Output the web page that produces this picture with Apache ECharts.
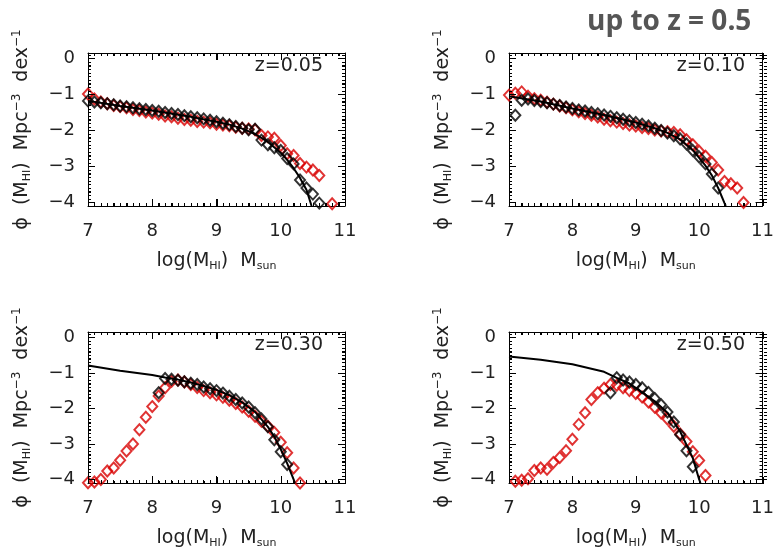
<!DOCTYPE html>
<html>
<head>
<meta charset="utf-8">
<script src="https://cdn.jsdelivr.net/npm/echarts@6/dist/echarts.min.js"></script>
<style>
html,body{margin:0;padding:0;background:#fff;}
#chart{width:777px;height:550px;}
</style>
</head>
<body>
<div id="chart"></div>
<script>
// ---------------- DATA ----------------
const panelLabels = ['z=0.05', 'z=0.10', 'z=0.30', 'z=0.50'];
const xTicks = [7, 8, 9, 10, 11];
const yTicks = [-4, -3, -2, -1, 0];

// z = 0.05
const mass05Black = [7.0,7.1,7.2,7.3,7.4,7.5,7.6,7.7,7.8,7.9,8.0,8.1,8.2,8.3,8.4,8.5,8.6,8.7,8.8,8.9,9.0,9.1,9.2,9.3,9.4,9.5,9.6,9.7,9.8,9.9,10.0,10.1,10.2,10.3,10.4,10.5,10.6];
const phi05Black = [-1.18,-1.21,-1.23,-1.26,-1.29,-1.32,-1.34,-1.37,-1.40,-1.42,-1.45,-1.47,-1.50,-1.53,-1.56,-1.59,-1.62,-1.65,-1.68,-1.72,-1.76,-1.80,-1.84,-1.89,-1.94,-1.98,-1.97,-2.27,-2.40,-2.48,-2.56,-2.78,-2.93,-3.38,-3.60,-3.77,-4.02];
const mass05Red = [7.0,7.1,7.2,7.3,7.4,7.5,7.6,7.7,7.8,7.9,8.0,8.1,8.2,8.3,8.4,8.5,8.6,8.7,8.8,8.9,9.0,9.1,9.2,9.3,9.4,9.5,9.6,9.7,9.8,9.9,10.0,10.1,10.2,10.3,10.4,10.5,10.6,10.8];
const phi05Red = [-0.99,-1.13,-1.21,-1.26,-1.31,-1.34,-1.37,-1.42,-1.45,-1.49,-1.52,-1.55,-1.60,-1.62,-1.66,-1.70,-1.72,-1.75,-1.77,-1.79,-1.83,-1.85,-1.87,-1.91,-1.94,-1.96,-1.98,-2.14,-2.18,-2.22,-2.42,-2.65,-2.70,-2.92,-3.02,-3.10,-3.25,-4.04];
const mass05Fit = [7.0,7.5,8.0,8.5,9.0,9.2,9.4,9.6,9.8,10.0,10.1,10.2,10.3,10.4,10.48];
const phi05Fit = [-1.18,-1.32,-1.45,-1.59,-1.76,-1.84,-1.95,-2.10,-2.32,-2.62,-2.82,-3.05,-3.32,-3.65,-4.10];

// z = 0.10
const mass10Black = [7.1,7.2,7.3,7.4,7.5,7.6,7.7,7.8,7.9,8.0,8.1,8.2,8.3,8.4,8.5,8.6,8.7,8.8,8.9,9.0,9.1,9.2,9.3,9.4,9.5,9.6,9.7,9.8,9.9,10.0,10.1,10.2,10.3];
const phi10Black = [-1.58,-1.16,-1.13,-1.17,-1.20,-1.23,-1.27,-1.31,-1.35,-1.39,-1.43,-1.46,-1.50,-1.54,-1.57,-1.61,-1.65,-1.69,-1.73,-1.78,-1.83,-1.88,-1.94,-2.00,-2.07,-2.15,-2.24,-2.38,-2.56,-2.74,-2.93,-3.21,-3.60];
const mass10Red = [7.0,7.1,7.2,7.3,7.4,7.5,7.6,7.7,7.8,7.9,8.0,8.1,8.2,8.3,8.4,8.5,8.6,8.7,8.8,8.9,9.0,9.1,9.2,9.3,9.4,9.5,9.6,9.7,9.8,9.9,10.0,10.1,10.2,10.3,10.4,10.5,10.6,10.7];
const phi10Red = [-1.02,-0.97,-0.93,-1.05,-1.12,-1.16,-1.22,-1.27,-1.32,-1.37,-1.43,-1.48,-1.53,-1.58,-1.63,-1.69,-1.73,-1.77,-1.81,-1.85,-1.88,-1.92,-1.95,-1.99,-2.02,-2.04,-2.06,-2.12,-2.26,-2.40,-2.58,-2.72,-2.89,-3.10,-3.42,-3.48,-3.60,-4.00];
const mass10Fit = [7.0,7.5,8.0,8.5,9.0,9.3,9.5,9.7,9.9,10.1,10.2,10.3,10.4,10.42];
const phi10Fit = [-1.05,-1.20,-1.39,-1.57,-1.78,-1.94,-2.07,-2.25,-2.55,-2.98,-3.25,-3.60,-4.02,-4.10];

// z = 0.30
const mass30Black = [8.1,8.2,8.3,8.4,8.5,8.6,8.7,8.8,8.9,9.0,9.1,9.2,9.3,9.4,9.5,9.6,9.7,9.8,9.9,10.0,10.1];
const phi30Black = [-1.56,-1.16,-1.18,-1.21,-1.25,-1.29,-1.33,-1.40,-1.45,-1.50,-1.57,-1.66,-1.75,-1.85,-1.96,-2.12,-2.30,-2.52,-2.88,-3.22,-3.58];
const mass30Red = [7.0,7.1,7.2,7.3,7.4,7.5,7.6,7.7,7.8,7.9,8.0,8.1,8.2,8.3,8.4,8.5,8.6,8.7,8.8,8.9,9.0,9.1,9.2,9.3,9.4,9.5,9.6,9.7,9.8,9.9,10.0,10.1,10.2,10.3];
const phi30Red = [-4.09,-4.07,-4.00,-3.76,-3.68,-3.46,-3.20,-3.00,-2.60,-2.25,-1.95,-1.65,-1.42,-1.24,-1.20,-1.26,-1.33,-1.41,-1.50,-1.56,-1.62,-1.69,-1.77,-1.86,-1.96,-2.08,-2.22,-2.36,-2.50,-2.68,-2.95,-3.25,-3.68,-4.10];
const mass30Fit = [7.0,7.5,8.0,8.2,8.4,8.6,8.8,9.0,9.2,9.4,9.6,9.8,9.9,10.0,10.1,10.2,10.22];
const phi30Fit = [-0.79,-0.94,-1.06,-1.13,-1.19,-1.27,-1.37,-1.48,-1.63,-1.83,-2.10,-2.52,-2.80,-3.15,-3.55,-4.00,-4.10];

// z = 0.50
const mass50Black = [8.6,8.7,8.8,8.9,9.0,9.1,9.2,9.3,9.4,9.5,9.6,9.7,9.8,9.9];
const phi50Black = [-1.56,-1.14,-1.20,-1.26,-1.33,-1.42,-1.55,-1.72,-1.90,-2.10,-2.38,-2.74,-3.19,-3.64];
const mass50Red = [7.0,7.1,7.2,7.3,7.4,7.5,7.6,7.7,7.8,7.9,8.0,8.1,8.2,8.3,8.4,8.5,8.6,8.7,8.8,8.9,9.0,9.1,9.2,9.3,9.4,9.5,9.6,9.7,9.8,9.9,10.0,10.1];
const phi50Red = [-4.12,-4.05,-4.02,-3.98,-3.75,-3.68,-3.71,-3.52,-3.38,-3.19,-2.87,-2.45,-2.12,-1.75,-1.56,-1.43,-1.33,-1.35,-1.42,-1.50,-1.58,-1.68,-1.82,-1.97,-2.13,-2.30,-2.50,-2.72,-2.93,-3.22,-3.47,-3.89];
const mass50Fit = [7.0,7.5,8.0,8.5,8.7,8.9,9.1,9.3,9.5,9.7,9.9,10.0,10.02];
const phi50Fit = [-0.54,-0.63,-0.76,-0.97,-1.14,-1.30,-1.55,-1.80,-2.12,-2.65,-3.40,-4.00,-4.10];

// ---------------- BUILD ----------------
function zip(xs, ys) { return xs.map((x, i) => [x, ys[i]]); }

const X_MIN = 7, X_MAX = 11, Y_MIN = -4.1, Y_MAX = 0.15;

const panels = [
  {label: panelLabels[0], black: zip(mass05Black, phi05Black), red: zip(mass05Red, phi05Red), fit: zip(mass05Fit, phi05Fit)},
  {label: panelLabels[1], black: zip(mass10Black, phi10Black), red: zip(mass10Red, phi10Red), fit: zip(mass10Fit, phi10Fit)},
  {label: panelLabels[2], black: zip(mass30Black, phi30Black), red: zip(mass30Red, phi30Red), fit: zip(mass30Fit, phi30Fit)},
  {label: panelLabels[3], black: zip(mass50Black, phi50Black), red: zip(mass50Red, phi50Red), fit: zip(mass50Fit, phi50Fit)}
];

const grids = [
  {left: 88, top: 53, width: 257, height: 153},
  {left: 509, top: 53, width: 258, height: 153},
  {left: 88, top: 332, width: 257, height: 152},
  {left: 509, top: 332, width: 258, height: 152}
];

const FONT = 'DejaVu Sans';
const TXT = '#222';

const nameRich = {
  n: {fontSize: 19, color: TXT, fontFamily: FONT},
  s: {fontSize: 11, color: TXT, fontFamily: FONT, padding: [10, 0, 0, 0]},
  p: {fontSize: 12, color: TXT, fontFamily: FONT, padding: [0, 0, 11, 0]}
};

function axisCommon() {
  return {
    axisLine: {show: true, onZero: false, lineStyle: {color: '#000', width: 1}},
    axisTick: {show: true, inside: true, length: 7, lineStyle: {color: '#000', width: 1}},
    minorTick: {show: true, splitNumber: 10, length: 3, lineStyle: {color: '#000', width: 1}},
    splitLine: {show: false},
    minorSplitLine: {show: false}
  };
}

const xAxes = [], yAxes = [], series = [], graphics = [];

grids.forEach((g, i) => {
  xAxes.push(Object.assign({
    gridIndex: i, type: 'value', min: X_MIN, max: X_MAX, interval: 1, position: 'bottom',
    axisLabel: {show: true, margin: 16, fontSize: 18, color: TXT, fontFamily: FONT,
      formatter: v => (xTicks.indexOf(Math.round(v)) >= 0 && Math.abs(v - Math.round(v)) < 1e-6) ? String(Math.round(v)) : ''},
    name: '{n|log(M}{s|HI}{n|)  M}{s|sun}',
    nameLocation: 'middle', nameGap: 45,
    nameTextStyle: {rich: nameRich}
  }, axisCommon()));
  xAxes.push(Object.assign({
    gridIndex: i, type: 'value', min: X_MIN, max: X_MAX, interval: 1, position: 'top',
    axisLabel: {show: false}
  }, axisCommon()));
  yAxes.push(Object.assign({
    gridIndex: i, type: 'value', min: Y_MIN, max: Y_MAX, splitNumber: 5, position: 'left',
    axisLabel: {show: true, margin: 13, fontSize: 18, color: TXT, fontFamily: FONT,
      formatter: v => {
        const r = Math.round(v);
        if (Math.abs(v - r) > 1e-6 || yTicks.indexOf(r) < 0) return '';
        return r === 0 ? '0' : '\u2212' + Math.abs(r);
      }},
    name: '{n|\u03D5  (M}{s|HI}{n|)  Mpc}{p|\u22123}{n|  dex}{p|\u22121}',
    nameLocation: 'middle', nameGap: 54,
    nameTextStyle: {rich: nameRich}
  }, axisCommon()));
  yAxes.push(Object.assign({
    gridIndex: i, type: 'value', min: Y_MIN, max: Y_MAX, splitNumber: 5, position: 'right',
    axisLabel: {show: false}
  }, axisCommon()));

  const p = panels[i];
  const symStyle = (c) => ({color: 'rgba(0,0,0,0)', borderColor: c, borderWidth: 2});
  series.push({
    type: 'scatter', xAxisIndex: 2 * i, yAxisIndex: 2 * i, data: p.red,
    symbol: 'diamond', symbolSize: [10, 11], itemStyle: symStyle('#d80000'), z: 2, silent: true
  });
  series.push({
    type: 'scatter', xAxisIndex: 2 * i, yAxisIndex: 2 * i, data: p.black,
    symbol: 'diamond', symbolSize: [10, 11], itemStyle: symStyle('#000'), z: 3, silent: true
  });
  series.push({
    type: 'line', xAxisIndex: 2 * i, yAxisIndex: 2 * i, data: p.fit,
    showSymbol: false, symbol: 'none', lineStyle: {color: '#000', width: 2}, z: 4, clip: true, silent: true
  });

  graphics.push({
    type: 'text', right: 777 - (g.left + g.width) + 22, top: g.top + 4,
    style: {text: p.label, font: '19px "DejaVu Sans"', fill: TXT}
  });
});

graphics.push({
  type: 'text', left: 587, top: 8,
  style: {text: 'up to z = 0.5', font: 'bold 28px "Open Sans"', fill: '#555'}
});

const chart = echarts.init(document.getElementById('chart'), null, {renderer: 'canvas'});
chart.setOption({
  animation: false,
  backgroundColor: '#fff',
  grid: grids.map(g => Object.assign({containLabel: false}, g)),
  xAxis: xAxes,
  yAxis: yAxes,
  series: series,
  graphic: graphics
});

// box tick marks as thin filled rects, positioned through the axes' own scales
const tickRects = [];
const minorX = [], minorY = [];
for (let k = 71; k < 110; k++) { if (k % 10 !== 0) minorX.push(k / 10); }
for (let k = -40; k <= 1; k++) { if (k % 10 !== 0) minorY.push(k / 10); }
function toPx(i, x, y) {
  let pt = null;
  try { pt = chart.convertToPixel({gridIndex: i}, [x, y]); } catch (e) { pt = null; }
  if (!pt || !isFinite(pt[0]) || !isFinite(pt[1])) {
    const g = grids[i];
    pt = [g.left + (x - X_MIN) / (X_MAX - X_MIN) * g.width,
          g.top + (Y_MAX - y) / (Y_MAX - Y_MIN) * g.height];
  }
  return pt;
}
grids.forEach((g, i) => {
  const yb = g.top + g.height, yt = g.top, xl = g.left, xr = g.left + g.width;
  const addX = (v, len) => {
    const x = Math.round(toPx(i, v, Y_MIN)[0]);
    tickRects.push({type: 'rect', silent: true, z: 100, shape: {x: x, y: yb - len, width: 1, height: len}, style: {fill: '#000'}});
    tickRects.push({type: 'rect', silent: true, z: 100, shape: {x: x, y: yt, width: 1, height: len}, style: {fill: '#000'}});
  };
  const addY = (v, len) => {
    const y = Math.round(toPx(i, X_MIN, v)[1]);
    tickRects.push({type: 'rect', silent: true, z: 100, shape: {x: xl, y: y, width: len, height: 1}, style: {fill: '#000'}});
    tickRects.push({type: 'rect', silent: true, z: 100, shape: {x: xr - len, y: y, width: len, height: 1}, style: {fill: '#000'}});
  };
  xTicks.forEach(v => addX(v, 7));
  minorX.forEach(v => addX(v, 3));
  yTicks.forEach(v => addY(v, 7));
  minorY.forEach(v => addY(v, 3));
});
chart.setOption({graphic: graphics.concat(tickRects)});
</script>
</body>
</html>
